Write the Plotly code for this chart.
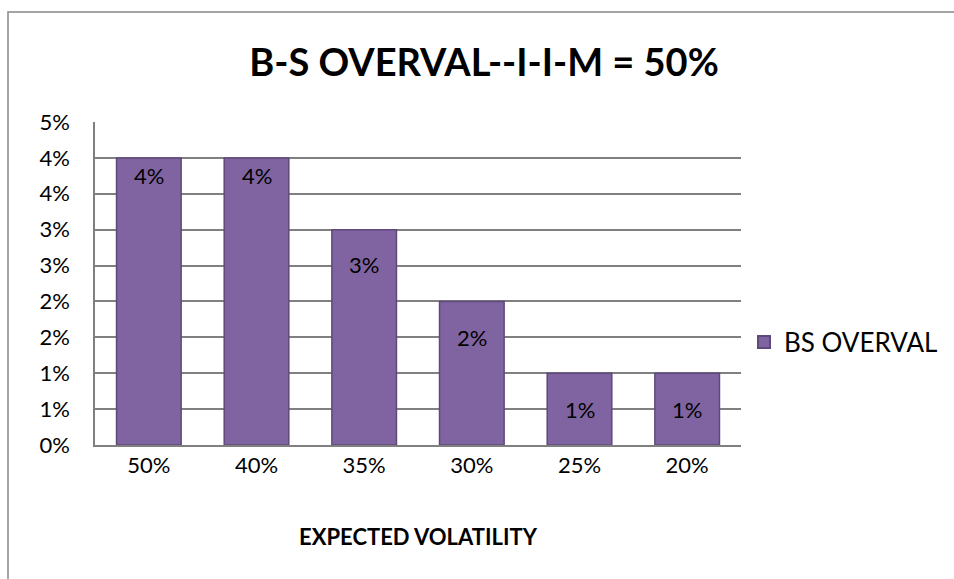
import plotly.graph_objects as go

categories = ["50%", "40%", "35%", "30%", "25%", "20%"]
values = [0.04, 0.04, 0.03, 0.02, 0.01, 0.01]
bar_labels = ["4%", "4%", "3%", "2%", "1%", "1%"]
label_shift = [-18, -18, -35, -36, -36, -36]
tick_vals = [0, 0.005, 0.01, 0.015, 0.02, 0.025, 0.03, 0.035, 0.04, 0.045]
tick_text = ["0%", "1%", "1%", "2%", "2%", "3%", "3%", "4%", "4%", "5%"]

FONT = "Lato"
W, H = 954, 579
L, R, T, B = 95, 213, 122, 134

fig = go.Figure()
fig.add_trace(go.Bar(
    x=categories, y=values, name="BS OVERVAL",
    marker=dict(color="#8064A2", line=dict(color="#5F497A", width=1.5)),
    width=0.6,
))

for c, v, t, s in zip(categories, values, bar_labels, label_shift):
    fig.add_annotation(x=c, y=v, text=t, showarrow=False, yshift=s,
                       font=dict(family=FONT, size=22, color="#000000"))

pw, ph = W - L - R, H - T - B
fig.add_shape(type="rect", xref="paper", yref="paper",
              x0=(8 - L) / pw, x1=(W + 20 - L) / pw,
              y0=-(H + 20 - T - ph) / ph, y1=(H - B - 12) / ph,
              line=dict(color="#868686", width=1.5), fillcolor="rgba(0,0,0,0)")

fig.update_layout(
    width=W, height=H,
    margin=dict(l=L, r=R, t=T, b=B, autoexpand=False),
    paper_bgcolor="white", plot_bgcolor="white",
    title=dict(text="<b>B-S OVERVAL--I-I-M = 50%</b>", x=484 / W, xanchor="center",
               y=1 - 63 / H, yanchor="middle",
               font=dict(family=FONT, size=38, color="#000000")),
    font=dict(family=FONT, size=22, color="#000000"),
    showlegend=True,
    legend=dict(x=(744 - L) / pw, xanchor="left", y=(H - B - 342) / ph, yanchor="middle",
                font=dict(family=FONT, size=26), itemsizing="constant",
                itemwidth=30, bgcolor="rgba(0,0,0,0)"),
    bargap=0.42,
)
fig.update_yaxes(range=[0, 0.045], tickvals=tick_vals, ticktext=tick_text,
                 showgrid=True, gridcolor="#808080", gridwidth=1.5,
                 showline=True, linecolor="#808080", linewidth=1.5,
                 ticks="", ticklabelstandoff=19, zeroline=False,
                 tickfont=dict(family=FONT, size=22))
fig.update_xaxes(showline=True, linecolor="#808080", linewidth=1.5,
                 ticks="", ticklabelstandoff=0,
                 tickfont=dict(family=FONT, size=22),
                 title=dict(text="<b>EXPECTED VOLATILITY</b>", standoff=52,
                            font=dict(family=FONT, size=22)))

fig.write_html("out.html")
